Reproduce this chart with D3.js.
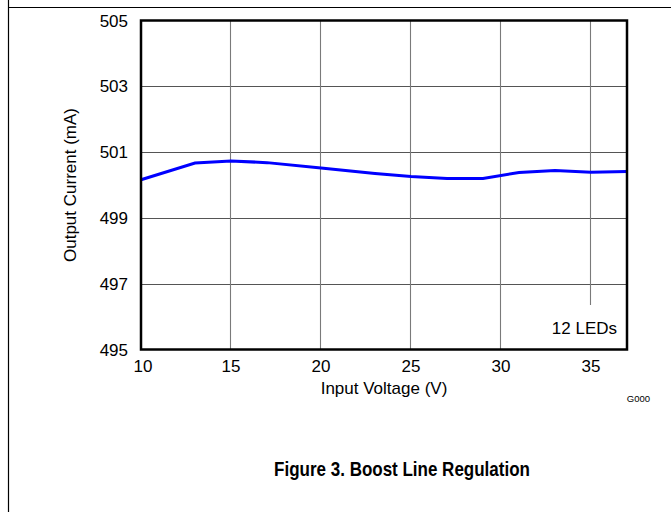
<!DOCTYPE html>
<html>
<head>
<meta charset="utf-8">
<script src="https://cdn.jsdelivr.net/npm/d3@7"></script>
<style>
body{margin:0;background:#fff;}
svg{display:block;font-family:"Liberation Sans",Arial,sans-serif;}
</style>
</head>
<body>
<svg id="chart" width="671" height="512"></svg>
<script>
// data
const inputVoltage = [10, 13, 15, 17, 20, 23, 25, 27, 29, 31, 33, 35, 37];
const outputCurrent = [500.16, 500.67, 500.73, 500.68, 500.52, 500.35, 500.26, 500.20, 500.20, 500.38, 500.44, 500.39, 500.41];
const xTicks = [10, 15, 20, 25, 30, 35];
const yTicks = [495, 497, 499, 501, 503, 505];

const svg = d3.select("#chart");
const plotL = 141, plotR = 627, plotT = 20.5, plotB = 349.5;

const x = d3.scaleLinear().domain([10, 37]).range([plotL, plotR]);
const y = d3.scaleLinear().domain([495, 505]).range([plotB, plotT]);

// page rules
svg.append("line").attr("x1", 8).attr("x2", 671).attr("y1", 7.5).attr("y2", 7.5)
  .attr("stroke", "#000").attr("stroke-width", 1.2);
svg.append("line").attr("x1", 8.5).attr("x2", 8.5).attr("y1", 0).attr("y2", 512)
  .attr("stroke", "#000").attr("stroke-width", 1.2);

// grid
svg.append("g").selectAll("line")
  .data(yTicks.filter(d => d > 495 && d < 505))
  .join("line")
    .attr("x1", plotL).attr("x2", plotR)
    .attr("y1", d => Math.round(y(d)) + 0.5).attr("y2", d => Math.round(y(d)) + 0.5)
    .attr("stroke", "#555").attr("stroke-width", 1);

svg.append("g").selectAll("line")
  .data(xTicks.filter(d => d > 10))
  .join("line")
    .attr("x1", d => Math.round(x(d)) - 0.5).attr("x2", d => Math.round(x(d)) - 0.5)
    .attr("y1", plotT)
    // the 35 V line stops short to leave room for the note
    .attr("y2", d => d == 35 ? 305 : plotB)
    .attr("stroke", "#7a7a7a").attr("stroke-width", 1.1);

// tick labels
svg.append("g").selectAll("text")
  .data(yTicks)
  .join("text")
    .attr("x", 128).attr("y", d => y(d) + 6)
    .attr("text-anchor", "end")
    .attr("font-size", 17)
    .text(d => d);

svg.append("g").selectAll("text")
  .data(xTicks)
  .join("text")
    .attr("x", d => x(d) + (d == 10 ? 2 : 0)).attr("y", 372)
    .attr("text-anchor", "middle")
    .attr("font-size", 17)
    .text(d => d);

// curve
const line = d3.line()
  .x(d => x(d[0]))
  .y(d => y(d[1]));
svg.append("path")
  .datum(d3.zip(inputVoltage, outputCurrent))
  .attr("d", line)
  .attr("fill", "none")
  .attr("stroke", "#0000ff")
  .attr("stroke-width", 3);

// frame
svg.append("rect")
  .attr("x", plotL).attr("y", plotT)
  .attr("width", plotR - plotL).attr("height", plotB - plotT)
  .attr("fill", "none").attr("stroke", "#000").attr("stroke-width", 2.5);

// labels
svg.append("text")
  .attr("x", 617).attr("y", 334)
  .attr("text-anchor", "end").attr("font-size", 17)
  .text("12 LEDs");

svg.append("text")
  .attr("x", (plotL + plotR) / 2).attr("y", 394)
  .attr("text-anchor", "middle").attr("font-size", 17)
  .text("Input Voltage (V)");

svg.append("text")
  .attr("transform", "translate(76," + ((plotT + plotB) / 2) + ") rotate(-90)")
  .attr("text-anchor", "middle").attr("font-size", 17)
  .text("Output Current (mA)");

svg.append("text")
  .attr("x", 650).attr("y", 402)
  .attr("text-anchor", "end").attr("font-size", 9.5)
  .text("G000");

// caption is set in a condensed bold face; squeeze Liberation Sans to match
svg.append("text")
  .attr("transform", "translate(402,476) scale(0.85,1)")
  .attr("text-anchor", "middle")
  .attr("font-weight", "bold").attr("font-size", 20)
  .text("Figure 3. Boost Line Regulation");
</script>
</body>
</html>
